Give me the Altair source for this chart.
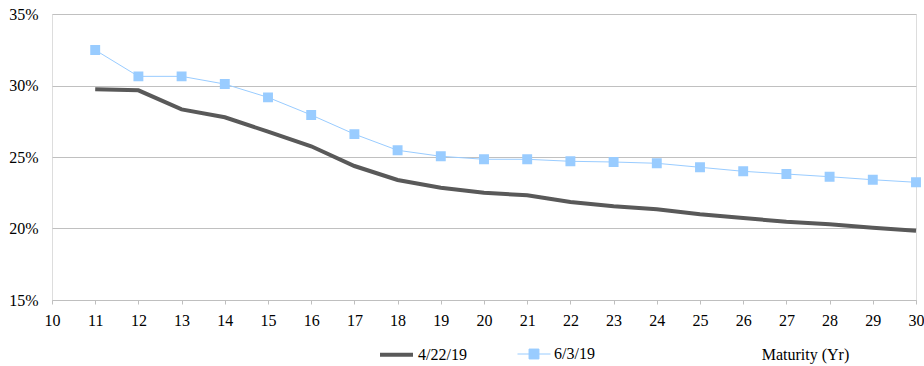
import altair as alt
import pandas as pd

# Implied volatility term structure, maturities 11-30 years
maturity = list(range(11, 31))
vol_apr = [29.73, 29.66, 28.33, 27.78, 26.77, 25.75, 24.37, 23.39, 22.85, 22.50,
           22.32, 21.85, 21.55, 21.34, 21.00, 20.73, 20.47, 20.29, 20.06, 19.85]
vol_jun = [32.48, 30.64, 30.64, 30.10, 29.17, 27.94, 26.60, 25.47, 25.05, 24.84,
           24.84, 24.70, 24.65, 24.56, 24.28, 24.00, 23.81, 23.62, 23.41, 23.23]
series_names = ["4/22/19", "6/3/19"]
x_ticks = list(range(10, 31))
y_ticks = [0.15, 0.20, 0.25, 0.30, 0.35]

df = pd.DataFrame({
    "maturity": maturity * 2,
    "vol": [v / 100 for v in vol_apr + vol_jun],
    "series": [series_names[0]] * len(maturity) + [series_names[1]] * len(maturity),
})

FONT = "Liberation Serif"
FS = 16
DARK = "#595959"
BLUE = "#99CCFF"

# legend glyphs: plain stroke for the first series, stroke with a square for the second
LINE_PATH = "M-1,0H1"
LINE_SQUARE_PATH = "M-1,0H1M-0.3,-0.3H0.3V0.3H-0.3Z"

legend = alt.Legend(
    title=None, orient="none", direction="horizontal",
    legendX=326, legendY=322,
    labelFont=FONT, labelFontSize=FS, labelColor="#000000",
    symbolSize=1089, labelOffset=3, columnPadding=48,
)

x = alt.X("maturity:Q",
          scale=alt.Scale(domain=[10, 30], nice=False, zero=False),
          axis=alt.Axis(values=x_ticks, format="d", grid=False, title="Maturity (Yr)",
                        domainColor="#bfbfbf", tickColor="#bfbfbf", tickSize=4,
                        labelFont=FONT, labelFontSize=FS, labelColor="#000000",
                        labelPadding=8, labelFlush=False,
                        titleFont=FONT, titleFontSize=FS, titleFontWeight="normal",
                        titleColor="#000000", titleX=753, titleY=54,
                        titleAlign="center", titleBaseline="middle"))
y = alt.Y("vol:Q",
          scale=alt.Scale(domain=[0.15, 0.35], nice=False, zero=False),
          axis=alt.Axis(values=y_ticks, format=".0%", title=None, domain=False, ticks=False,
                        gridColor="#c0c0c0", gridWidth=1,
                        labelFont=FONT, labelFontSize=FS, labelColor="#000000",
                        labelPadding=14))

color = alt.Color("series:N", scale=alt.Scale(domain=series_names, range=[DARK, BLUE]),
                  legend=legend)

lines = alt.Chart(df).mark_line().encode(
    x=x, y=y, color=color,
    strokeWidth=alt.StrokeWidth("series:N",
                                scale=alt.Scale(domain=series_names, range=[4, 1]),
                                legend=legend),
)

points = alt.Chart(df).transform_filter(
    alt.datum.series == series_names[1]
).mark_point(filled=True, opacity=1, size=1089).encode(
    x=x, y=y, color=color,
    shape=alt.Shape("series:N",
                    scale=alt.Scale(domain=series_names, range=[LINE_PATH, LINE_SQUARE_PATH]),
                    legend=legend),
)

chart = alt.layer(lines, points).properties(
    width=864, height=286,
    autosize=alt.AutoSizeParams(type="none"),
    padding={"left": 52, "top": 14, "right": 8, "bottom": 66},
).configure_view(stroke=None).configure(background="#ffffff", font=FONT).configure_axis(
    labelFont=FONT, labelFontSize=FS, titleFont=FONT
).configure_legend(labelFont=FONT, labelFontSize=FS)

chart.save("out.html", embed_options={"renderer": "svg", "actions": False})
